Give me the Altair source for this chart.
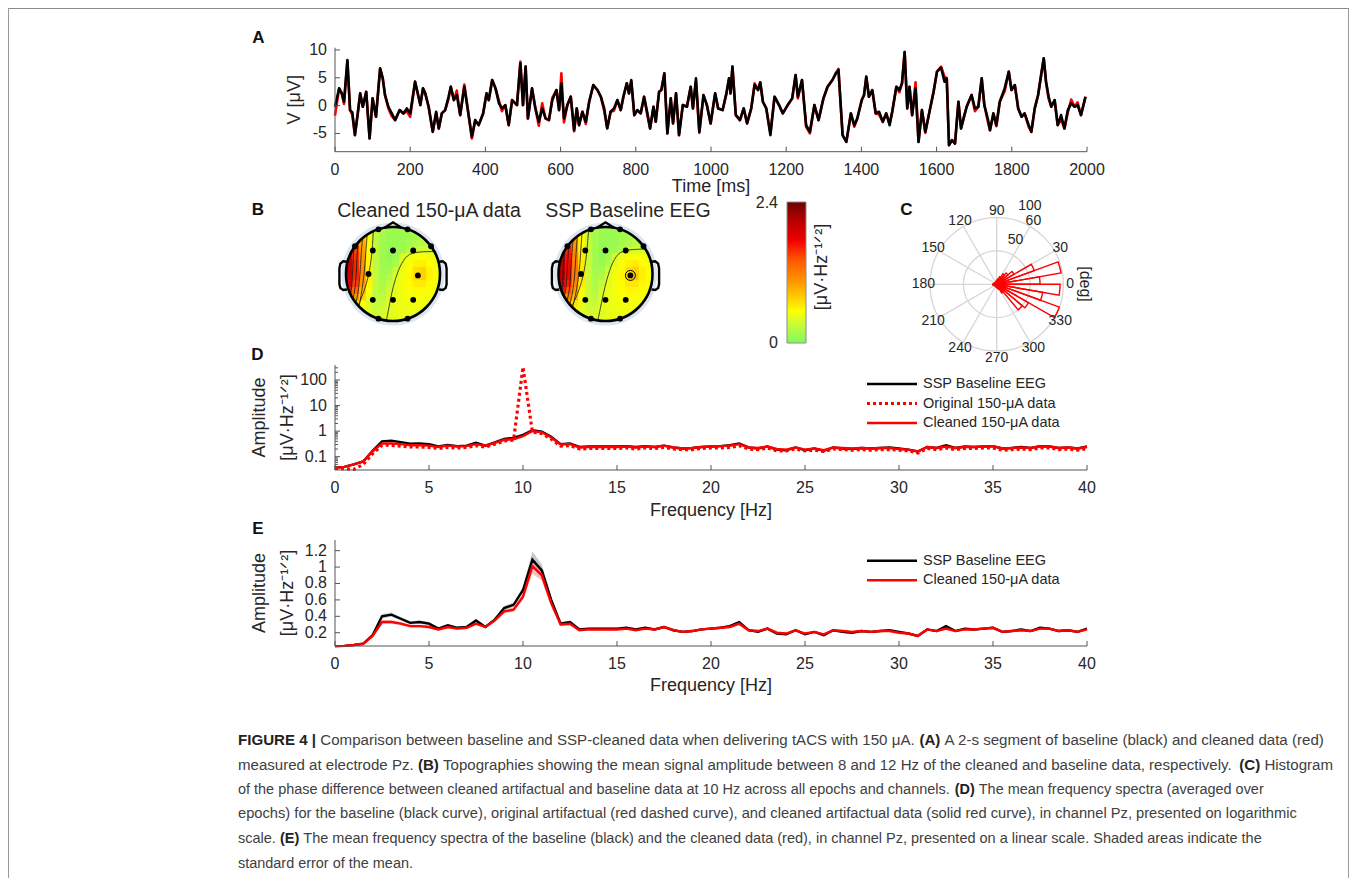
import math
import altair as alt
import pandas as pd

W, H = 1341, 870
FONT = "Liberation Sans"
INK = "#262626"
AXC = "#555555"
RED = "#ff0000"
GRIDC = "#d6d6d6"

# ---------------- Panel A : 2-s segment (time in ms, amplitude in uV)
A_TIME = [0, 11, 18, 24, 33, 40, 46, 53, 60, 67,
          74, 83, 92, 100, 109, 120, 127, 133, 142, 151,
          160, 172, 182, 191, 200, 213, 227, 234, 240, 249,
          260, 269, 276, 284, 293, 302, 308, 316, 324, 333,
          344, 356, 364, 373, 382, 394, 403, 409, 418, 427,
          436, 444, 453, 462, 471, 484, 493, 500, 507, 513,
          518, 524, 533, 542, 551, 560, 569, 578, 589, 596,
          602, 609, 618, 627, 636, 643, 649, 658, 667, 676,
          687, 698, 707, 716, 724, 733, 742, 751, 760, 767,
          776, 782, 788, 796, 804, 813, 822, 831, 838, 847,
          853, 862, 868, 876, 884, 893, 899, 907, 915, 925,
          936, 946, 952, 960, 969, 980, 989, 999, 1011, 1019,
          1031, 1041, 1048, 1052, 1057, 1066, 1077, 1087, 1096, 1107,
          1116, 1125, 1131, 1138, 1147, 1158, 1169, 1181, 1191, 1204,
          1216, 1225, 1231, 1242, 1253, 1263, 1275, 1286, 1299, 1310,
          1323, 1332, 1339, 1350, 1360, 1372, 1381, 1389, 1401, 1407,
          1413, 1420, 1429, 1438, 1447, 1457, 1466, 1475, 1482, 1493,
          1501, 1508, 1515, 1522, 1528, 1535, 1544, 1552, 1561, 1570,
          1581, 1592, 1601, 1612, 1621, 1627, 1633, 1641, 1649, 1658,
          1665, 1674, 1680, 1693, 1702, 1711, 1720, 1727, 1736, 1742,
          1751, 1759, 1768, 1781, 1792, 1799, 1808, 1817, 1826, 1834,
          1845, 1852, 1861, 1870, 1878, 1885, 1891, 1898, 1905, 1914,
          1922, 1931, 1940, 1949, 1958, 1967, 1975, 1984, 1996]
A_BASE = [-0.2, 3.1, 2.2, 0.7, 8.2, -0.8, -1.2, -5.3, -1.7, 2.2,
          -0.2, 2.5, -5.9, 1.3, -2.0, 6.7, 4.9, 1.9, -0.2, -1.4,
          -2.6, -0.8, -1.4, -0.5, -1.4, 4.3, 0.1, 3.1, 2.2, -0.2,
          -4.7, -1.1, -4.1, -1.4, -0.8, 1.6, 3.4, 1.0, 1.9, -1.7,
          3.4, -2.0, -5.6, -2.6, -3.5, -1.4, 2.2, 1.0, 4.6, 3.1,
          0.4, -0.5, 0.1, -3.5, 1.0, 0.1, 7.6, 0.1, 7.0, -2.3,
          0.1, 3.1, -0.5, -2.9, -0.5, -2.3, -2.6, 1.0, 2.8, -0.8,
          4.0, -2.3, 0.1, 1.6, -4.4, -0.5, -3.5, -1.1, -2.9, 0.7,
          3.7, 2.8, 1.6, -0.5, -4.1, -1.1, -0.5, 1.0, -0.8, 1.6,
          4.0, 2.2, 4.6, -1.7, -0.8, -1.4, 1.6, -1.4, -4.1, -0.2,
          -2.9, 2.5, 2.8, 5.8, -5.0, 1.3, -3.2, 2.2, -5.3, 0.1,
          -0.2, 3.4, -0.5, 4.9, -4.7, 1.9, 0.1, -3.2, 2.2, -0.5,
          -0.8, 2.2, 4.9, 2.2, 7.0, -1.7, -2.6, -0.5, -3.2, -0.5,
          3.7, 2.8, 4.2, 0.7, -0.5, -5.3, 1.6, 0.1, -1.4, 0.1,
          1.3, 5.5, 1.6, 4.6, -3.5, -4.7, 0.1, -2.6, 1.3, 3.4,
          4.6, 5.8, 6.4, -5.3, -6.5, -1.4, -3.5, -2.3, 1.0, 1.9,
          5.2, 1.6, 2.8, -1.4, -1.1, -2.9, -1.4, -3.5, -1.1, 3.4,
          2.8, 4.0, 9.6, -0.5, 3.4, -1.7, 3.1, -6.5, -0.8, -4.7,
          -1.1, 2.5, 6.1, 6.8, 4.3, 4.9, -7.1, -6.2, -6.8, 0.7,
          -4.1, -1.7, -0.2, 1.9, -0.5, -0.2, 4.9, 0.1, -2.3, -4.4,
          -1.4, -3.5, 0.7, 3.1, 6.1, 2.8, 3.7, -0.5, -2.0, -1.4,
          -3.5, -4.7, -0.5, 1.9, 5.5, 8.5, 4.3, 1.6, -0.2, 1.0,
          -3.5, -1.7, -4.1, -0.8, 0.4, -0.2, 0.1, -1.7, 1.6]
A_CLEAN = [-1.8, 3.1, 2.2, 0.3, 8.0, -0.8, -1.6, -5.3, -1.7, 2.2,
           -0.2, 2.5, -5.9, 1.3, -2.0, 6.6, 4.9, 1.9, -0.5, -1.9,
           -2.6, -0.8, -1.4, -1.0, -2.0, 4.3, 0.1, 3.1, 2.2, -0.2,
           -4.7, -1.4, -4.1, -1.4, -0.8, 1.2, 3.4, 1.0, 2.7, -1.7,
           3.8, -2.0, -5.9, -2.6, -3.5, -1.4, 2.2, 1.0, 4.6, 3.1,
           0.9, -1.0, 0.1, -3.5, 1.0, 0.1, 7.9, 0.1, 7.0, -2.3,
           0.1, 3.1, -0.5, -3.6, 0.4, -2.3, -2.6, 1.4, 2.8, -0.8,
           5.8, -3.0, 0.1, 1.6, -4.6, -0.5, -3.5, -1.1, -3.3, 0.7,
           3.7, 2.8, 1.6, -1.0, -4.0, -1.1, -0.9, 1.0, -0.8, 1.6,
           4.0, 2.2, 4.4, -1.7, -0.8, -1.4, 1.6, -1.8, -4.1, -0.2,
           -2.9, 2.5, 2.8, 5.8, -5.0, 1.3, -3.2, 2.2, -5.3, 0.1,
           -0.2, 3.4, -0.5, 4.3, -4.9, 1.9, 0.1, -3.2, 2.2, -0.5,
           -0.8, 2.2, 4.9, 2.2, 7.0, -1.7, -2.6, -0.5, -3.2, -0.5,
           4.0, 2.8, 4.2, 0.7, -0.5, -4.9, 1.6, 0.1, -1.4, 0.1,
           1.3, 5.5, 1.3, 4.6, -3.8, -5.0, 0.1, -2.6, 1.3, 3.4,
           4.6, 5.8, 6.6, -5.3, -6.5, -1.4, -3.8, -2.3, 1.0, 1.9,
           5.2, 1.6, 2.8, -1.4, -1.6, -2.9, -1.4, -3.2, -1.1, 3.4,
           2.4, 4.0, 9.6, -0.5, 3.4, -1.7, 4.2, -6.5, -0.8, -4.9,
           -1.1, 2.5, 6.1, 7.0, 5.2, 4.9, -7.1, -6.2, -6.8, 0.7,
           -4.1, -1.7, -0.2, 1.9, -1.0, -0.2, 4.9, 0.1, -2.8, -4.4,
           -1.4, -3.7, 0.7, 2.6, 6.1, 2.8, 3.7, -0.5, -2.0, -1.4,
           -3.8, -4.7, -0.5, 1.9, 5.5, 8.5, 4.3, 1.2, -0.2, 1.0,
           -3.5, -2.4, -4.1, -1.2, 1.1, -0.2, 0.6, -1.7, 1.6]
A_XTICKS = [0, 200, 400, 600, 800, 1000, 1200, 1400, 1600, 1800, 2000]
A_YTICKS = [-5, 0, 5, 10]

# ---------------- Panels D / E : spectra (0 - 40 Hz, 0.5 Hz steps)
FREQ = [i / 2 for i in range(81)]
SPEC_BASE = [0.037, 0.040, 0.050, 0.065, 0.17, 0.40, 0.42, 0.37, 0.32, 0.33,
             0.31, 0.25, 0.29, 0.26, 0.27, 0.35, 0.27, 0.36, 0.50, 0.54,
             0.72, 1.09, 0.96, 0.60, 0.31, 0.33, 0.24, 0.25, 0.25, 0.25,
             0.25, 0.26, 0.24, 0.26, 0.24, 0.27, 0.23, 0.21, 0.22, 0.24,
             0.25, 0.26, 0.28, 0.33, 0.23, 0.21, 0.25, 0.19, 0.18, 0.23,
             0.18, 0.21, 0.17, 0.23, 0.21, 0.20, 0.22, 0.21, 0.22, 0.23,
             0.21, 0.19, 0.16, 0.24, 0.22, 0.28, 0.22, 0.25, 0.24, 0.25,
             0.26, 0.21, 0.22, 0.24, 0.22, 0.26, 0.25, 0.22, 0.23, 0.21,
             0.25]
SPEC_CLEAN = [0.037, 0.040, 0.050, 0.065, 0.16, 0.33, 0.33, 0.31, 0.28, 0.28,
              0.27, 0.24, 0.27, 0.25, 0.26, 0.31, 0.27, 0.35, 0.46, 0.48,
              0.64, 1.01, 0.90, 0.56, 0.30, 0.31, 0.23, 0.24, 0.24, 0.24,
              0.24, 0.25, 0.23, 0.25, 0.24, 0.27, 0.23, 0.21, 0.22, 0.24,
              0.25, 0.26, 0.27, 0.31, 0.23, 0.22, 0.25, 0.20, 0.19, 0.23,
              0.19, 0.21, 0.18, 0.23, 0.22, 0.21, 0.22, 0.21, 0.22, 0.22,
              0.20, 0.19, 0.16, 0.24, 0.22, 0.25, 0.22, 0.24, 0.24, 0.25,
              0.26, 0.21, 0.22, 0.23, 0.22, 0.25, 0.25, 0.22, 0.23, 0.21,
              0.24]
SPEC_ORIG = [0.035, 0.034, 0.032, 0.050, 0.13, 0.28, 0.28, 0.26, 0.24, 0.24,
             0.23, 0.21, 0.23, 0.22, 0.23, 0.27, 0.24, 0.31, 0.41, 0.45,
             320.0, 0.92, 0.80, 0.49, 0.26, 0.27, 0.20, 0.21, 0.21, 0.21,
             0.21, 0.22, 0.20, 0.22, 0.21, 0.23, 0.20, 0.19, 0.19, 0.21,
             0.22, 0.22, 0.23, 0.27, 0.20, 0.19, 0.22, 0.17, 0.17, 0.20,
             0.17, 0.18, 0.16, 0.20, 0.19, 0.18, 0.19, 0.18, 0.19, 0.19,
             0.18, 0.17, 0.14, 0.21, 0.19, 0.22, 0.19, 0.21, 0.21, 0.22,
             0.22, 0.18, 0.19, 0.20, 0.19, 0.22, 0.22, 0.19, 0.20, 0.18,
             0.21]
SEM_BASE = [0.004, 0.004, 0.005, 0.006, 0.012, 0.028, 0.026, 0.022, 0.020, 0.020,
            0.020, 0.016, 0.016, 0.015, 0.015, 0.018, 0.016, 0.020, 0.026, 0.028,
            0.040, 0.100, 0.070, 0.040, 0.020, 0.020, 0.014, 0.014, 0.013, 0.013,
            0.013, 0.014, 0.013, 0.014, 0.013, 0.015, 0.013, 0.013, 0.013, 0.013,
            0.013, 0.014, 0.015, 0.018, 0.013, 0.013, 0.013, 0.012, 0.012, 0.013,
            0.012, 0.013, 0.012, 0.013, 0.013, 0.012, 0.013, 0.013, 0.013, 0.013,
            0.013, 0.012, 0.012, 0.013, 0.013, 0.015, 0.013, 0.013, 0.013, 0.013,
            0.014, 0.013, 0.013, 0.013, 0.013, 0.014, 0.013, 0.013, 0.013, 0.013,
            0.014]
SEM_CLEAN = [0.004, 0.004, 0.005, 0.006, 0.011, 0.022, 0.022, 0.020, 0.018, 0.018,
             0.018, 0.015, 0.015, 0.014, 0.014, 0.016, 0.015, 0.019, 0.024, 0.026,
             0.036, 0.090, 0.065, 0.036, 0.018, 0.018, 0.013, 0.013, 0.012, 0.012,
             0.012, 0.013, 0.012, 0.013, 0.012, 0.014, 0.012, 0.012, 0.012, 0.012,
             0.012, 0.013, 0.014, 0.016, 0.012, 0.012, 0.012, 0.011, 0.011, 0.012,
             0.011, 0.012, 0.011, 0.012, 0.012, 0.011, 0.012, 0.012, 0.012, 0.012,
             0.012, 0.011, 0.011, 0.012, 0.012, 0.014, 0.012, 0.012, 0.012, 0.012,
             0.013, 0.012, 0.012, 0.012, 0.012, 0.013, 0.012, 0.012, 0.012, 0.012,
             0.013]
F_TICKS = [0, 5, 10, 15, 20, 25, 30, 35, 40]
D_YTICKS = [0.1, 1, 10, 100]
D_MINOR = [0.04, 0.05, 0.06, 0.07, 0.08, 0.09, 0.2, 0.3, 0.4, 0.5, 0.6, 0.7, 0.8, 0.9,
           2, 3, 4, 5, 6, 7, 8, 9, 20, 30, 40, 50, 60, 70, 80, 90, 200, 300]
E_YTICKS = [0.2, 0.4, 0.6, 0.8, 1.0, 1.2]
D_LEGEND = ["SSP Baseline EEG", "Original 150-μA data", "Cleaned 150-μA data"]
E_LEGEND = ["SSP Baseline EEG", "Cleaned 150-μA data"]
AMP_TITLE = ["Amplitude", "[μV·Hz⁻¹ᐟ²]"]

# ---------------- Panel B : topographies (8-12 Hz amplitude), 14 x 14 grid, top row first
TOPO_CLEAN = [
    [1.20, 1.00, 0.80, 0.55, 0.28, 0.17, 0.13, 0.13, 0.13, 0.14, 0.16, 0.18, 0.18, 0.18],
    [1.60, 1.30, 0.85, 0.50, 0.27, 0.16, 0.11, 0.11, 0.12, 0.14, 0.17, 0.20, 0.22, 0.22],
    [1.80, 1.40, 0.95, 0.52, 0.27, 0.15, 0.10, 0.10, 0.12, 0.16, 0.21, 0.25, 0.27, 0.27],
    [1.90, 1.50, 1.00, 0.55, 0.27, 0.14, 0.09, 0.10, 0.14, 0.23, 0.32, 0.36, 0.36, 0.36],
    [1.95, 1.55, 1.05, 0.57, 0.28, 0.14, 0.09, 0.14, 0.38, 0.47, 0.52, 0.53, 0.50, 0.47],
    [2.00, 1.60, 1.08, 0.58, 0.28, 0.14, 0.11, 0.20, 0.44, 0.52, 0.60, 0.62, 0.55, 0.50],
    [2.00, 1.62, 1.10, 0.60, 0.29, 0.15, 0.15, 0.36, 0.48, 0.56, 0.70, 0.74, 0.60, 0.52],
    [1.95, 1.60, 1.10, 0.62, 0.30, 0.16, 0.22, 0.42, 0.50, 0.58, 0.72, 0.76, 0.60, 0.52],
    [1.85, 1.50, 1.02, 0.58, 0.29, 0.18, 0.30, 0.44, 0.50, 0.56, 0.63, 0.64, 0.57, 0.51],
    [1.60, 1.30, 0.90, 0.52, 0.28, 0.21, 0.36, 0.45, 0.50, 0.54, 0.57, 0.57, 0.53, 0.50],
    [1.30, 1.05, 0.75, 0.46, 0.28, 0.26, 0.40, 0.46, 0.49, 0.51, 0.52, 0.52, 0.50, 0.48],
    [0.95, 0.80, 0.55, 0.40, 0.31, 0.31, 0.41, 0.46, 0.48, 0.49, 0.49, 0.49, 0.48, 0.47],
    [0.70, 0.60, 0.45, 0.38, 0.33, 0.35, 0.42, 0.46, 0.47, 0.47, 0.47, 0.47, 0.46, 0.46],
    [0.50, 0.45, 0.40, 0.37, 0.36, 0.38, 0.42, 0.45, 0.46, 0.46, 0.46, 0.46, 0.45, 0.45],
]
TOPO_BASE = [
    [1.32, 1.12, 0.92, 0.62, 0.33, 0.18, 0.13, 0.13, 0.13, 0.14, 0.16, 0.18, 0.18, 0.18],
    [1.72, 1.42, 0.97, 0.56, 0.31, 0.17, 0.11, 0.11, 0.12, 0.14, 0.17, 0.20, 0.22, 0.22],
    [1.92, 1.52, 1.07, 0.58, 0.31, 0.16, 0.10, 0.10, 0.12, 0.16, 0.21, 0.25, 0.27, 0.27],
    [2.02, 1.62, 1.12, 0.61, 0.31, 0.15, 0.09, 0.10, 0.14, 0.24, 0.33, 0.37, 0.37, 0.37],
    [2.07, 1.67, 1.17, 0.63, 0.32, 0.15, 0.09, 0.15, 0.39, 0.48, 0.53, 0.54, 0.51, 0.48],
    [2.12, 1.72, 1.20, 0.64, 0.32, 0.15, 0.11, 0.21, 0.45, 0.53, 0.61, 0.64, 0.56, 0.51],
    [2.12, 1.74, 1.22, 0.66, 0.33, 0.16, 0.15, 0.37, 0.49, 0.57, 0.72, 0.77, 0.62, 0.53],
    [2.07, 1.72, 1.22, 0.68, 0.34, 0.17, 0.22, 0.43, 0.51, 0.59, 0.74, 0.79, 0.62, 0.53],
    [1.97, 1.62, 1.14, 0.64, 0.33, 0.19, 0.30, 0.45, 0.51, 0.57, 0.65, 0.66, 0.58, 0.52],
    [1.72, 1.42, 1.02, 0.58, 0.32, 0.22, 0.36, 0.46, 0.51, 0.55, 0.58, 0.58, 0.54, 0.51],
    [1.42, 1.17, 0.87, 0.52, 0.32, 0.27, 0.40, 0.47, 0.50, 0.52, 0.53, 0.53, 0.51, 0.49],
    [1.07, 0.92, 0.67, 0.45, 0.34, 0.32, 0.41, 0.47, 0.49, 0.50, 0.50, 0.50, 0.49, 0.48],
    [0.82, 0.72, 0.57, 0.43, 0.36, 0.36, 0.42, 0.46, 0.48, 0.48, 0.48, 0.48, 0.47, 0.47],
    [0.62, 0.57, 0.52, 0.42, 0.39, 0.39, 0.42, 0.45, 0.47, 0.47, 0.47, 0.47, 0.46, 0.46],
]
# contour lines: list of polylines of (u, w) in head-radius units
CONTOURS_CLEAN = [
    [(-0.42, 0.90), (-0.45, 0.37), (-0.52, -0.06), (-0.63, -0.41), (-0.74, -0.67)],
    [(0.87, 0.48), (0.43, 0.47), (0.26, 0.37), (0.11, 0.09), (0.0, -0.27), (-0.07, -0.62), (-0.14, -0.99)],
    [(-0.55, 0.83), (-0.58, 0.45), (-0.61, 0.0), (-0.67, -0.40), (-0.72, -0.69)],
    [(-0.65, 0.76), (-0.68, 0.40), (-0.70, 0.0), (-0.74, -0.40), (-0.79, -0.61)],
    [(-0.74, 0.67), (-0.77, 0.35), (-0.78, 0.0), (-0.81, -0.35), (-0.85, -0.52)],
    [(-0.83, 0.56), (-0.85, 0.28), (-0.86, 0.0), (-0.88, -0.30), (-0.91, -0.42)],
]
CONTOURS_BASE = [
    [(-0.36, 0.93), (-0.40, 0.40), (-0.47, -0.06), (-0.60, -0.45), (-0.72, -0.69)],
    [(0.84, 0.53), (0.40, 0.52), (0.22, 0.40), (0.08, 0.08), (-0.02, -0.30), (-0.09, -0.63), (-0.16, -0.98)],
    [(-0.50, 0.86), (-0.53, 0.45), (-0.56, 0.0), (-0.63, -0.42), (-0.70, -0.71)],
    [(-0.60, 0.80), (-0.63, 0.42), (-0.65, 0.0), (-0.70, -0.42), (-0.76, -0.64)],
    [(-0.69, 0.72), (-0.72, 0.38), (-0.74, 0.0), (-0.77, -0.38), (-0.82, -0.57)],
    [(-0.78, 0.62), (-0.80, 0.32), (-0.82, 0.0), (-0.84, -0.33), (-0.88, -0.47)],
    [(-0.87, 0.49), (-0.89, 0.24), (-0.90, 0.0), (-0.91, -0.24), (-0.93, -0.36)],
]
ELEC_U = [-0.43, 0.0, 0.43, -0.52, 0.53, -0.43, 0.0, 0.43, -0.31, 0.31, -0.81, 0.81, -0.31, 0.31]
ELEC_W = [0.50, 0.50, 0.50, 0.0, -0.03, -0.55, -0.55, -0.55, 0.95, 0.95, 0.59, 0.59, -0.95, -0.95]
EAR_U = [0.98, 1.06, 1.12, 1.14, 1.14, 1.12, 1.06, 0.98]
EAR_W = [0.26, 0.27, 0.22, 0.12, -0.22, -0.30, -0.34, -0.33]
NOSE_U = [-0.19, 0.0, 0.19]
NOSE_W = [0.98, 1.10, 0.98]
CB_VALUES = [0.0, 0.3, 0.55, 0.8, 1.05, 1.4, 1.75, 2.1, 2.4]
CB_COLORS = ["#80fa5c", "#c4fb3c", "#ffff00", "#ffc800", "#ff9600", "#ff5a00",
             "#f00000", "#b40000", "#6e0000"]
B_TITLES = ["Cleaned 150-μA data", "SSP Baseline EEG"]

# ---------------- Panel C : rose histogram of phase differences (10-degree bins)
ROSE_START = [0, 10, 20, 30, 40, 50, 60, 70, 80, 90, 100, 110, 120, 130, 140, 150, 160, 170,
              180, 190, 200, 210, 220, 230, 240, 250, 260, 270, 280, 290, 300, 310, 320, 330, 340, 350]
ROSE_COUNTS = [65, 98, 60, 30, 22, 18, 12, 8, 6, 5, 4, 3, 3, 3, 3, 4, 4, 5,
               6, 5, 4, 3, 3, 3, 3, 4, 4, 5, 6, 8, 15, 50, 55, 100, 70, 95]
ANGLE_TICKS = [0, 30, 60, 90, 120, 150, 180, 210, 240, 270, 300, 330]
R_TICKS = [50, 100]

# ---------------- Caption
CAPTION = [
    [("FIGURE 4 |", True), (" Comparison between baseline and SSP-cleaned data when delivering tACS with 150 μA. ", False),
     ("(A)", True), (" A 2-s segment of baseline (black) and cleaned data (red)", False)],
    [("measured at electrode Pz. ", False), ("(B)", True),
     (" Topographies showing the mean signal amplitude between 8 and 12 Hz of the cleaned and baseline data, respectively. ", False),
     ("(C)", True), (" Histogram", False)],
    [("of the phase difference between cleaned artifactual and baseline data at 10 Hz across all epochs and channels. ", False),
     ("(D)", True), (" The mean frequency spectra (averaged over", False)],
    [("epochs) for the baseline (black curve), original artifactual (red dashed curve), and cleaned artifactual data (solid red curve), in channel Pz, presented on logarithmic", False)],
    [("scale. ", False), ("(E)", True),
     (" The mean frequency spectra of the baseline (black) and the cleaned data (red), in channel Pz, presented on a linear scale. Shaded areas indicate the", False)],
    [("standard error of the mean.", False)],
]

# ======================================================================
def lin(domain, rng):
    return alt.Scale(type="linear", domain=domain, range=rng, nice=False, zero=False)


def txt(text, x, y, size=16, weight="normal", align="center", baseline="middle", angle=0, color=INK):
    return alt.Chart(pd.DataFrame({"t": [text]})).mark_text(
        font=FONT, fontSize=size, fontWeight=weight, align=align, baseline=baseline,
        angle=angle, color=color).encode(x=alt.value(x), y=alt.value(y), text="t:N")


def fmt(v):
    return "{:g}".format(v)


XL, XR = 327, 1079


def frame(sx, sy, bot, top, xticks, yticks, xlab_dy, xtitle, xtitle_y, ytitles, ytitle_xs, minor=None):
    """Manual MATLAB-like axes: domain lines, inward ticks, labels and titles."""
    out = []
    out.append(alt.Chart(pd.DataFrame({"k": [0]})).mark_rule(color=AXC, strokeWidth=1).encode(
        x=alt.value(XL), x2=alt.value(XR), y=alt.value(bot)))
    out.append(alt.Chart(pd.DataFrame({"k": [0]})).mark_rule(color=AXC, strokeWidth=1).encode(
        x=alt.value(XL), y=alt.value(bot), y2=alt.value(top)))
    dx = pd.DataFrame({"v": xticks, "lab": [fmt(v) for v in xticks]})
    dy = pd.DataFrame({"v": yticks, "lab": [fmt(v) for v in yticks]})
    out.append(alt.Chart(dx).mark_rule(color=AXC).encode(
        x=alt.X("v:Q", scale=sx, axis=None), y=alt.value(bot), y2=alt.value(bot - 5)))
    out.append(alt.Chart(dy).mark_rule(color=AXC).encode(
        y=alt.Y("v:Q", scale=sy, axis=None), x=alt.value(XL), x2=alt.value(XL + 5)))
    if minor:
        out.append(alt.Chart(pd.DataFrame({"v": minor})).mark_rule(color=AXC).encode(
            y=alt.Y("v:Q", scale=sy, axis=None), x=alt.value(XL), x2=alt.value(XL + 3)))
    out.append(alt.Chart(dx).mark_text(font=FONT, fontSize=16, color=INK, baseline="middle").encode(
        x=alt.X("v:Q", scale=sx, axis=None), y=alt.value(bot + xlab_dy), text="lab:N"))
    out.append(alt.Chart(dy).mark_text(font=FONT, fontSize=16, color=INK, align="right",
                                       baseline="middle").encode(
        y=alt.Y("v:Q", scale=sy, axis=None), x=alt.value(XL - 8), text="lab:N"))
    out.append(txt(xtitle, (XL + XR) / 2, xtitle_y, size=18))
    for t, xx in zip(ytitles, ytitle_xs):
        out.append(txt(t, xx, (bot + top) / 2, size=18, angle=270))
    return out


layers = []

# faint figure frame
layers.append(alt.Chart(pd.DataFrame({"k": [0]})).mark_rule(color="#8a8a8a", strokeWidth=2).encode(
    x=alt.value(0), x2=alt.value(W), y=alt.value(0)))
for xx in (0.5, W - 0.5):
    layers.append(alt.Chart(pd.DataFrame({"k": [0]})).mark_rule(color="#9a9a9a", strokeWidth=1).encode(
        x=alt.value(xx), y=alt.value(0), y2=alt.value(H)))

# ---------------- Panel A
A_BOT, A_TOP = 143.7, 39.7
SA_X = lin([0, 2000], [XL, XR])
SA_Y = lin([-8.27, 10.4], [A_BOT, A_TOP])
dfA = pd.DataFrame({"t": A_TIME, "base": A_BASE, "clean": A_CLEAN})
a_red = alt.Chart(dfA).mark_line(color=RED, strokeWidth=2.6, strokeJoin="round").encode(
    x=alt.X("t:Q", scale=SA_X, axis=None), y=alt.Y("clean:Q", scale=SA_Y, axis=None))
a_blk = alt.Chart(dfA).mark_line(color="black", strokeWidth=2.6, strokeJoin="round").encode(
    x=alt.X("t:Q", scale=SA_X, axis=None), y=alt.Y("base:Q", scale=SA_Y, axis=None))
layers.append(alt.layer(a_red, a_blk, *frame(SA_X, SA_Y, A_BOT, A_TOP, A_XTICKS, A_YTICKS, 18.3,
                                               "Time [ms]", 178.8, ["V [μV]"], [287])))

# ---------------- Panel D (log)
D_BOT, D_TOP = 462, 357
SD_X = lin([0, 40], [XL, XR])
SD_Y = alt.Scale(type="log", domain=[0.0302, 386], range=[D_BOT, D_TOP], nice=False)
dfS = pd.DataFrame({"f": FREQ, "base": SPEC_BASE, "clean": SPEC_CLEAN, "orig": SPEC_ORIG,
                    "sb": SEM_BASE, "sc": SEM_CLEAN})
dfS["b_lo"] = dfS["base"] - dfS["sb"]
dfS["b_hi"] = dfS["base"] + dfS["sb"]
dfS["c_lo"] = dfS["clean"] - dfS["sc"]
dfS["c_hi"] = dfS["clean"] + dfS["sc"]
d_blk = alt.Chart(dfS).mark_line(color="black", strokeWidth=2.4).encode(
    x=alt.X("f:Q", scale=SD_X, axis=None), y=alt.Y("base:Q", scale=SD_Y, axis=None))
d_org = alt.Chart(dfS).mark_line(color=RED, strokeWidth=3.2, strokeDash=[3, 3]).encode(
    x=alt.X("f:Q", scale=SD_X, axis=None), y=alt.Y("orig:Q", scale=SD_Y, axis=None))
d_cln = alt.Chart(dfS).mark_line(color=RED, strokeWidth=2.4).encode(
    x=alt.X("f:Q", scale=SD_X, axis=None), y=alt.Y("clean:Q", scale=SD_Y, axis=None))
layers.append(alt.layer(d_blk, d_org, d_cln, *frame(SD_X, SD_Y, D_BOT, D_TOP, F_TICKS, D_YTICKS, 17.5,
                                                    "Frequency [Hz]", 503, AMP_TITLE, [252, 280],
                                                    minor=D_MINOR)))

# ---------------- Panel E (linear)
E_BOT, E_TOP = 638, 532
SE_X = lin([0, 40], [XL, XR])
SE_Y = lin([0.038, 1.33], [E_BOT, E_TOP])
e_bb = alt.Chart(dfS).mark_area(color="#9a9a9a", opacity=0.55).encode(
    x=alt.X("f:Q", scale=SE_X, axis=None), y=alt.Y("b_lo:Q", scale=SE_Y, axis=None), y2="b_hi:Q")
e_cb = alt.Chart(dfS).mark_area(color="#f28b8b", opacity=0.55).encode(
    x=alt.X("f:Q", scale=SE_X, axis=None), y=alt.Y("c_lo:Q", scale=SE_Y, axis=None), y2="c_hi:Q")
e_blk = alt.Chart(dfS).mark_line(color="black", strokeWidth=2.4).encode(
    x=alt.X("f:Q", scale=SE_X, axis=None), y=alt.Y("base:Q", scale=SE_Y, axis=None))
e_cln = alt.Chart(dfS).mark_line(color=RED, strokeWidth=2.4).encode(
    x=alt.X("f:Q", scale=SE_X, axis=None), y=alt.Y("clean:Q", scale=SE_Y, axis=None))
layers.append(alt.layer(e_bb, e_cb, e_blk, e_cln, *frame(SE_X, SE_Y, E_BOT, E_TOP, F_TICKS, E_YTICKS, 18,
                                                         "Frequency [Hz]", 677.5, AMP_TITLE, [252, 280])))

# legends D / E
LEG_X0, LEG_X1, LEG_TX = 859, 909, 915
for i, lab in enumerate(D_LEGEND):
    yy = 376 + i * 19.5
    mk = dict(color="black" if i == 0 else RED, strokeWidth=2.4)
    if i == 1:
        mk = dict(color=RED, strokeWidth=3.2, strokeDash=[3, 3])
    layers.append(alt.Chart(pd.DataFrame({"t": [lab]})).mark_rule(**mk).encode(
        x=alt.value(LEG_X0), x2=alt.value(LEG_X1), y=alt.value(yy)))
    layers.append(txt(lab, LEG_TX, yy, size=14.5, align="left"))
for i, lab in enumerate(E_LEGEND):
    yy = 552.7 + i * 19.5
    layers.append(alt.Chart(pd.DataFrame({"t": [lab]})).mark_rule(
        color="black" if i == 0 else RED, strokeWidth=2.4).encode(
        x=alt.value(LEG_X0), x2=alt.value(LEG_X1), y=alt.value(yy)))
    layers.append(txt(lab, LEG_TX, yy, size=14.5, align="left"))

# ---------------- Panel B : topographies
CSCALE = alt.Scale(domain=CB_VALUES, range=CB_COLORS, interpolate="rgb")


def topo(grid, contours, cx, cy, mark_c4):
    R = 47
    sx = lin([-1, 1], [cx - R, cx + R])
    sy = lin([-1, 1], [cy + R, cy - R])
    n = len(grid)
    step = 2.0 / n
    rows = []
    for i, row in enumerate(grid):
        for j, v in enumerate(row):
            rows.append({"x0": -1 + j * step, "x1": -1 + (j + 1) * step,
                         "y0": 1 - (i + 1) * step, "y1": 1 - i * step, "val": v})
    cells = alt.Chart(pd.DataFrame(rows)).mark_rect(strokeWidth=0.8).encode(
        x=alt.X("x0:Q", scale=sx, axis=None), x2="x1:Q",
        y=alt.Y("y0:Q", scale=sy, axis=None), y2="y1:Q",
        color=alt.Color("val:Q", scale=CSCALE, legend=None),
        stroke=alt.Stroke("val:Q", scale=CSCALE, legend=None))
    crow = []
    for ci, line in enumerate(contours):
        for k, (u, w) in enumerate(line):
            crow.append({"c": ci, "k": k, "u": u, "w": w})
    cont = alt.Chart(pd.DataFrame(crow)).mark_line(color="#1a1a1a", strokeWidth=0.8,
                                                   interpolate="basis").encode(
        x=alt.X("u:Q", scale=sx, axis=None), y=alt.Y("w:Q", scale=sy, axis=None),
        detail="c:N", order="k:Q")
    center = pd.DataFrame({"u": [0.0], "w": [0.0]})

    def ring(r_px, width, color):
        return alt.Chart(center).mark_point(shape="circle", filled=False, size=(2 * r_px) ** 2,
                                            strokeWidth=width, color=color, opacity=1).encode(
            x=alt.X("u:Q", scale=sx, axis=None), y=alt.Y("w:Q", scale=sy, axis=None))

    mask = ring(R + 11.5, 23, "white")
    halo = ring(R + 2.5, 4, "#dbe6f1")
    outline = ring(R, 2.6, "black")
    ear_rows = []
    for side in (-1, 1):
        for k, (u, w) in enumerate(zip(EAR_U, EAR_W)):
            ear_rows.append({"side": side, "k": k, "u": side * u, "w": w})
    ears = alt.Chart(pd.DataFrame(ear_rows)).mark_line(color="black", strokeWidth=2.4).encode(
        x=alt.X("u:Q", scale=sx, axis=None), y=alt.Y("w:Q", scale=sy, axis=None),
        detail="side:N", order="k:Q")
    nose = alt.Chart(pd.DataFrame({"u": NOSE_U, "w": NOSE_W, "k": [0, 1, 2]})).mark_line(
        color="black", strokeWidth=2.4).encode(
        x=alt.X("u:Q", scale=sx, axis=None), y=alt.Y("w:Q", scale=sy, axis=None), order="k:Q")
    elec = alt.Chart(pd.DataFrame({"u": ELEC_U, "w": ELEC_W})).mark_point(
        shape="circle", filled=True, size=34, color="black", opacity=1).encode(
        x=alt.X("u:Q", scale=sx, axis=None), y=alt.Y("w:Q", scale=sy, axis=None))
    parts = [cells, cont, mask, halo, outline, ears, nose, elec]
    if mark_c4:
        parts.append(alt.Chart(pd.DataFrame({"u": [ELEC_U[4]], "w": [ELEC_W[4]]})).mark_point(
            shape="circle", filled=False, size=100, strokeWidth=1, color="black", opacity=1).encode(
            x=alt.X("u:Q", scale=sx, axis=None), y=alt.Y("w:Q", scale=sy, axis=None)))
    return alt.layer(*parts)


layers.append(topo(TOPO_CLEAN, CONTOURS_CLEAN, 385, 266, False))
layers.append(topo(TOPO_BASE, CONTOURS_BASE, 597.5, 266, True))
layers.append(txt(B_TITLES[0], 421, 203, size=19.5))
layers.append(txt(B_TITLES[1], 620, 203, size=19.5))

# colorbar
grad = alt.LinearGradient(gradient="linear",
                          stops=[alt.GradientStop(color=c, offset=v / CB_VALUES[-1])
                                 for v, c in zip(CB_VALUES, CB_COLORS)],
                          x1=0, x2=0, y1=1, y2=0)
layers.append(alt.Chart(pd.DataFrame({"k": [0]})).mark_rect(
    fill=grad, stroke="#8c8c8c", strokeWidth=1).encode(
    x=alt.value(779), x2=alt.value(798), y=alt.value(194), y2=alt.value(335)))
layers.append(txt("2.4", 770, 195, size=16, align="right"))
layers.append(txt("0", 770, 335, size=16, align="right"))
layers.append(txt("[μV·Hz⁻¹ᐟ²]", 814, 259, size=18, angle=270))

# ---------------- Panel C : rose plot
CX, CY, RC = 988.7, 276.3, 66.7
SC_X = lin([-100, 100], [CX - RC, CX + RC])
SC_Y = lin([-100, 100], [CY + RC, CY - RC])
spk = pd.DataFrame({"a": ANGLE_TICKS})
spk["x0"] = 0.0
spk["y0"] = 0.0
spk["x1"] = [100 * math.cos(math.radians(a)) for a in ANGLE_TICKS]
spk["y1"] = [100 * math.sin(math.radians(a)) for a in ANGLE_TICKS]
spk["lx"] = [110 * math.cos(math.radians(a)) for a in ANGLE_TICKS]
spk["ly"] = [110 * math.sin(math.radians(a)) for a in ANGLE_TICKS]
spk["lab"] = [str(a) for a in ANGLE_TICKS]
c_spokes = alt.Chart(spk).mark_rule(color=GRIDC, strokeWidth=1.3).encode(
    x=alt.X("x0:Q", scale=SC_X, axis=None), y=alt.Y("y0:Q", scale=SC_Y, axis=None),
    x2="x1:Q", y2="y1:Q")
c_circ = [alt.Chart(pd.DataFrame({"u": [0.0], "w": [0.0]})).mark_point(
    shape="circle", filled=False, size=(2 * RC * r / 100) ** 2, strokeWidth=1.3,
    color=GRIDC, opacity=1).encode(
    x=alt.X("u:Q", scale=SC_X, axis=None), y=alt.Y("w:Q", scale=SC_Y, axis=None)) for r in R_TICKS]
c_lab = alt.Chart(spk).mark_text(font=FONT, fontSize=14, color=INK).encode(
    x=alt.X("lx:Q", scale=SC_X, axis=None), y=alt.Y("ly:Q", scale=SC_Y, axis=None), text="lab:N")
rl = pd.DataFrame({"r": R_TICKS})
rl["x"] = [(r * 1.1 + 17) * math.cos(math.radians(67)) for r in R_TICKS]
rl["y"] = [(r * 1.1 + 17) * math.sin(math.radians(67)) for r in R_TICKS]
rl["lab"] = [str(r) for r in R_TICKS]
c_rlab = alt.Chart(rl).mark_text(font=FONT, fontSize=14, color=INK).encode(
    x=alt.X("x:Q", scale=SC_X, axis=None), y=alt.Y("y:Q", scale=SC_Y, axis=None), text="lab:N")
rose = pd.DataFrame({"a0": ROSE_START, "r": ROSE_COUNTS})
bw = ROSE_START[1] - ROSE_START[0]
rose["t0"] = [math.radians((90 - a - bw) % 360) for a in ROSE_START]
rose["t1"] = rose["t0"] + math.radians(bw)
c_rose = alt.Chart(rose).mark_arc(stroke=RED, strokeWidth=1.4, fillOpacity=0).encode(
    x=alt.value(CX), y=alt.value(CY),
    theta=alt.Theta("t0:Q", scale=None), theta2="t1:Q",
    radius=alt.Radius("r:Q", scale=alt.Scale(type="linear", domain=[0, 100], range=[0, RC], zero=True)))
layers.append(alt.layer(c_spokes, *c_circ, c_rose, c_lab, c_rlab))
layers.append(txt("[deg]", 1077, 276, size=16, angle=90))

# ---------------- panel letters
for lab, x, y in [("A", 250.3, 29.5), ("B", 250, 202), ("C", 898.5, 202), ("D", 249.5, 346.5), ("E", 250, 521)]:
    layers.append(txt(lab, x, y, size=17, weight="bold", color="#111111"))

# ---------------- caption
REG = {' ': 278, '(': 333, ')': 333, ',': 278, '-': 333, '.': 278, '|': 260, 'μ': 576,
       'A': 667, 'B': 667, 'C': 722, 'D': 722, 'E': 667, 'F': 611, 'G': 778, 'H': 722, 'I': 278,
       'P': 667, 'R': 722, 'S': 667, 'T': 611, 'U': 722, 'Z': 611,
       'a': 556, 'b': 556, 'c': 500, 'd': 556, 'e': 556, 'f': 278, 'g': 556, 'h': 556, 'i': 222,
       'j': 222, 'k': 500, 'l': 222, 'm': 833, 'n': 556, 'o': 556, 'p': 556, 'q': 556, 'r': 333,
       's': 500, 't': 278, 'u': 556, 'v': 500, 'w': 722, 'x': 500, 'y': 500, 'z': 500}
BLD = {' ': 278, '(': 333, ')': 333, '|': 280, 'A': 722, 'B': 722, 'C': 722, 'D': 722, 'E': 667,
       'F': 611, 'G': 778, 'I': 278, 'R': 722, 'U': 722}


def tw(s, bold):
    tab = BLD if bold else REG
    return sum(tab.get(ch, 556) for ch in s) / 1000.0


CAP_X0, CAP_Y0, CAP_DY = 230, 732, 24.8
CAP_END = [1317, 1325, 1256, 1289, 1254, 405]   # right end of each caption line (chart px)
for li, line in enumerate(CAPTION):
    total = sum(tw(seg, bold) for seg, bold in line)
    fs = min(15.2, (CAP_END[li] - CAP_X0) / total)
    x = CAP_X0
    yy = CAP_Y0 + li * CAP_DY
    for seg, bold in line:
        lead = len(seg) - len(seg.lstrip(" "))
        xs = x + tw(" " * lead, bold) * fs
        layers.append(txt(seg.strip(" "), xs, yy, size=fs, weight="bold" if bold else "normal",
                          align="left", color="#222222" if bold else "#404040"))
        x += tw(seg, bold) * fs

chart = alt.layer(*layers).resolve_scale(x="independent", y="independent").properties(
    width=W, height=H, padding=0, autosize=alt.AutoSizeParams(type="none")
).configure_view(strokeWidth=0)
chart.save("out.html", embed_options={"renderer": "svg", "actions": False})
